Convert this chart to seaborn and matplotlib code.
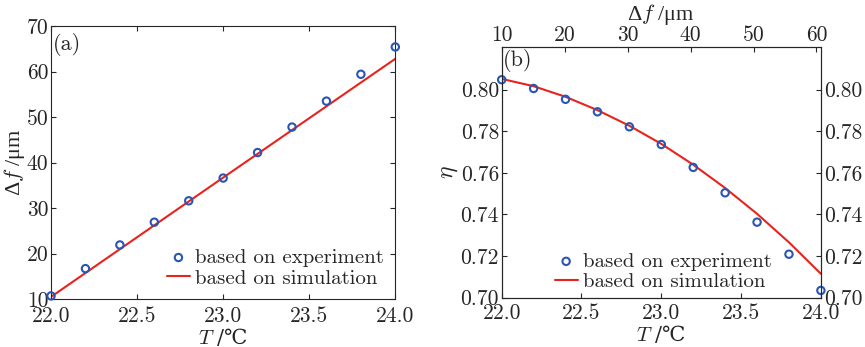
import numpy as np
import matplotlib
matplotlib.use("Agg")
import matplotlib.pyplot as plt
import seaborn as sns
import pandas as pd

# temperatures (°C)
temp = [22.0, 22.2, 22.4, 22.6, 22.8, 23.0, 23.2, 23.4, 23.6, 23.8, 24.0]

# (a) frequency shift, experiment + simulation
df_exp = [10.7, 16.7, 21.9, 26.9, 31.6, 36.6, 42.2, 47.8, 53.5, 59.4, 65.4]
df_sim_t = [22.0, 23.0, 24.0]
df_sim = [10.5, 36.7, 62.8]

# (b) efficiency, experiment + simulation
eta_exp = [0.8047, 0.8005, 0.7953, 0.7893, 0.7821, 0.7736, 0.7626, 0.7504, 0.7363, 0.7209, 0.7035]
eta_sim = [0.8051, 0.8016, 0.7965, 0.7901, 0.7826, 0.7739, 0.7639, 0.7527, 0.7403, 0.7266, 0.7115]

top_ticks = [10, 20, 30, 40, 50, 60]

sns.set_style("ticks")
plt.rcParams["font.family"] = ["cmr10"]
plt.rcParams["mathtext.fontset"] = "cm"
plt.rcParams["axes.unicode_minus"] = False
plt.rcParams["font.size"] = 15
plt.rcParams["xtick.direction"] = "in"
plt.rcParams["ytick.direction"] = "in"

lab_font = ["Liberation Serif", "DejaVu Serif"]
t_font = ["DejaVu Serif"]   # has the ℃ sign
blue = "#2a55b5"
red = "#e8231d"
tsize = 15.5

fig = plt.figure(figsize=(8.65, 3.47), dpi=100)
ax1 = fig.add_axes([0.059, 0.138, 0.398, 0.787])
ax2 = fig.add_axes([0.580, 0.142, 0.369, 0.723])

leg_kw = dict(frameon=False, fontsize=15, handlelength=1.1, handletextpad=0.25,
              labelspacing=0.1, borderpad=0.0)

a = pd.DataFrame({"T": temp, "v": df_exp})
b = pd.DataFrame({"T": df_sim_t, "v": df_sim})
sns.scatterplot(data=a, x="T", y="v", ax=ax1, marker="o", s=28, facecolor="none",
                edgecolor=blue, linewidth=1.5, label="based on experiment", zorder=3, clip_on=False)
sns.lineplot(data=b, x="T", y="v", ax=ax1, color=red, lw=1.5, label="based on simulation")
ax1.set_xlim(22, 24)
ax1.set_ylim(10, 70)
ax1.set_xticks([22.0, 22.5, 23.0, 23.5, 24.0])
ax1.set_xticklabels(["22.0", "22.5", "23.0", "23.5", "24.0"])
ax1.set_yticks([10, 20, 30, 40, 50, 60, 70])
ax1.set_yticklabels([str(v) for v in [10, 20, 30, 40, 50, 60, 70]])
ax1.tick_params(top=True, right=True, length=3.5, labelsize=tsize)
ax1.tick_params(axis="x", pad=5)
ax1.tick_params(axis="y", pad=2)
ax1.set_xlabel(r"$T$ /℃", labelpad=0, family=t_font, fontsize=15)
ax1.set_ylabel(r"Δ$f$ /μm", labelpad=0, family=lab_font, fontsize=16)
ax1.text(0.005, 0.975, "(a)", transform=ax1.transAxes, va="top", ha="left", fontsize=16)
ax1.legend(loc="lower right", borderaxespad=0.55, **leg_kw)

c = pd.DataFrame({"T": temp, "e": eta_exp})
d = pd.DataFrame({"T": temp, "e": eta_sim})
sns.scatterplot(data=c, x="T", y="e", ax=ax2, marker="o", s=28, facecolor="none",
                edgecolor=blue, linewidth=1.5, label="based on experiment", zorder=3, clip_on=False)
sns.lineplot(data=d, x="T", y="e", ax=ax2, color=red, lw=1.5, label="based on simulation")
ax2.set_xlim(22, 24)
ax2.set_ylim(0.70, 0.8205)
ax2.set_xticks([22.0, 22.5, 23.0, 23.5, 24.0])
ax2.set_xticklabels(["22.0", "22.5", "23.0", "23.5", "24.0"])
yt = [0.70, 0.72, 0.74, 0.76, 0.78, 0.80]
ax2.set_yticks(yt)
ax2.set_yticklabels([f"{v:.2f}" for v in yt])
ax2.tick_params(right=True, labelright=True, length=3.5, labelsize=tsize)
ax2.tick_params(axis="x", pad=4)
ax2.tick_params(axis="y", pad=2)
ax2.set_xlabel(r"$T$ /℃", labelpad=0, family=t_font, fontsize=15)
ax2.set_ylabel(r"$\eta$", labelpad=0, fontsize=17)
ax2.text(0.005, 0.99, "(b)", transform=ax2.transAxes, va="top", ha="left", fontsize=16)
ax2.legend(loc="lower right", borderaxespad=0.3, bbox_to_anchor=(0.865, 0.0), **leg_kw)

top = ax2.twiny()
top.set_xlim(10, 60.7)
top.set_xticks(top_ticks)
top.set_xticklabels([str(t) for t in top_ticks])
top.tick_params(direction="in", length=3.5, labelsize=tsize, pad=1)
top.set_xlabel(r"Δ$f$ /μm", labelpad=4, family=lab_font, fontsize=16)

fig.savefig("out.png", dpi=100)
